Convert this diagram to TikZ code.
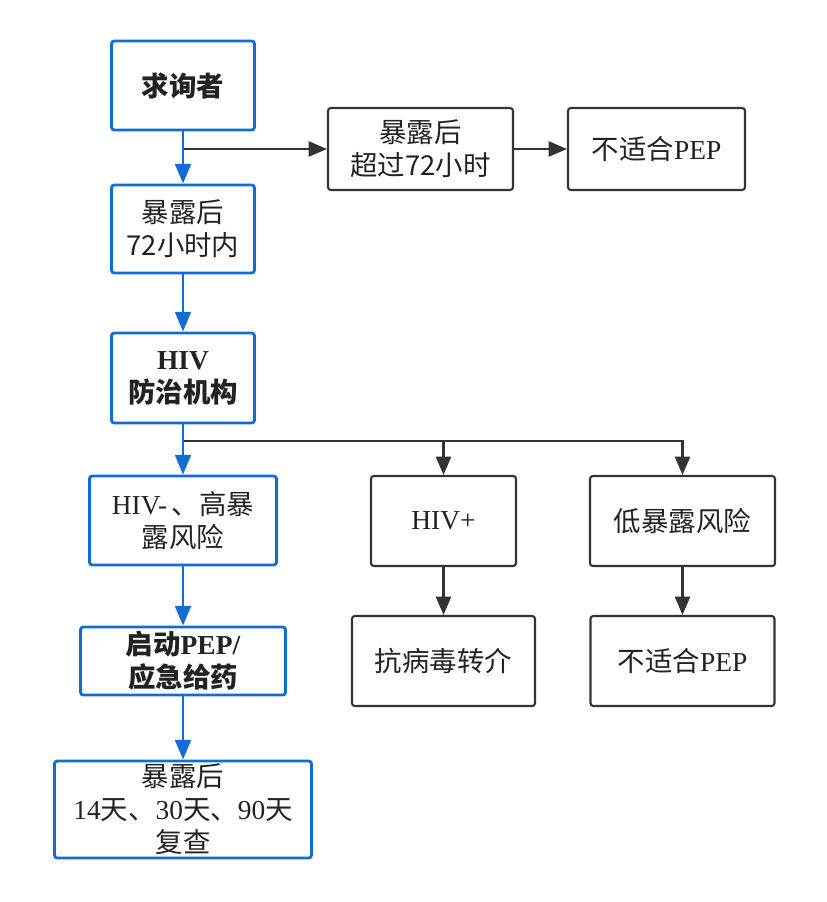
\documentclass[tikz,border=0pt]{standalone}
\usepackage{fontspec}
\setmainfont{Noto Sans CJK SC}
\newfontfamily\lat{Liberation Serif}
\usetikzlibrary{arrows.meta}
\definecolor{flowblue}{RGB}{18,108,212}
\definecolor{flowgray}{RGB}{51,51,51}
\definecolor{flowtext}{RGB}{34,34,34}
\tikzset{
  box/.style={draw, rounded corners=2pt, align=center, inner sep=0pt, text=flowtext,
    font=\fontsize{19.5}{23.5}\selectfont},
  bluebox/.style={box, draw=flowblue, line width=2pt},
  graybox/.style={box, draw=flowgray, line width=1.5pt},
  sz/.style 2 args={minimum width=#1*0.025cm, minimum height=#2*0.025cm},
  bluearrow/.style={draw=flowblue, line width=2pt, -{Triangle[length=4.9mm, width=3.9mm]}},
  grayarrow/.style={draw=flowgray, line width=1.5pt, -{Triangle[length=4.6mm, width=3.8mm]}}
}
\begin{document}
\begin{tikzpicture}[x=0.025cm, y=-0.025cm]
      \useasboundingbox (0,0) rectangle (827,902);
      \path
        (183,85.5) node[bluebox, sz={143}{89}] (0){\bfseries 求询者}
        (420.5,149) node[graybox, sz={185}{82}] (1){暴露后\\超过72小时}
        (656.5,149) node[graybox, sz={177}{82}] (2){不适合{\lat PEP}}
        (183,229) node[bluebox, sz={143}{88}] (3){暴露后\\72小时内}
        (183,378) node[bluebox, sz={143}{90}] (4){\bfseries{\lat\bfseries HIV}\\\bfseries 防治机构}
        (183,520.5) node[bluebox, sz={187}{89}] (5){{\lat HIV-}\,、高暴\\露风险}
        (443.5,521) node[graybox, sz={145}{90}] (6){{\lat HIV+}}
        (682.5,521) node[graybox, sz={185}{90}] (7){低暴露风险}
        (443.5,661) node[graybox, sz={183}{90}] (8){抗病毒转介}
        (682.5,661) node[graybox, sz={184}{90}] (9){不适合{\lat PEP}}
        (183,661) node[bluebox, sz={205}{68}] (10){\bfseries 启动{\lat\bfseries PEP/}\\\bfseries 应急给药}
        (183,809.5) node[bluebox, sz={257}{97}] (11){暴露后\\{\lat 14}天、{\lat 30}天、{\lat 90}天\\复查};
      \coordinate (j) at (183,441);
      \begin{scope}[grayarrow]
        \draw (0.south |- 1.west) -- (1);
        \draw (1) -- (2);
        \draw (j) -| (6.north);
        \draw (j) -| (7.north);
        \draw (6) -- (8);
        \draw (7) -- (9);
      \end{scope}
      \begin{scope}[bluearrow]
        \draw (0) -- (3);
        \draw (3) -- (4);
        \draw (4) -- (5);
        \draw (5) -- (10);
        \draw (10) -- (11);
      \end{scope}
    \end{tikzpicture}
\end{document}
